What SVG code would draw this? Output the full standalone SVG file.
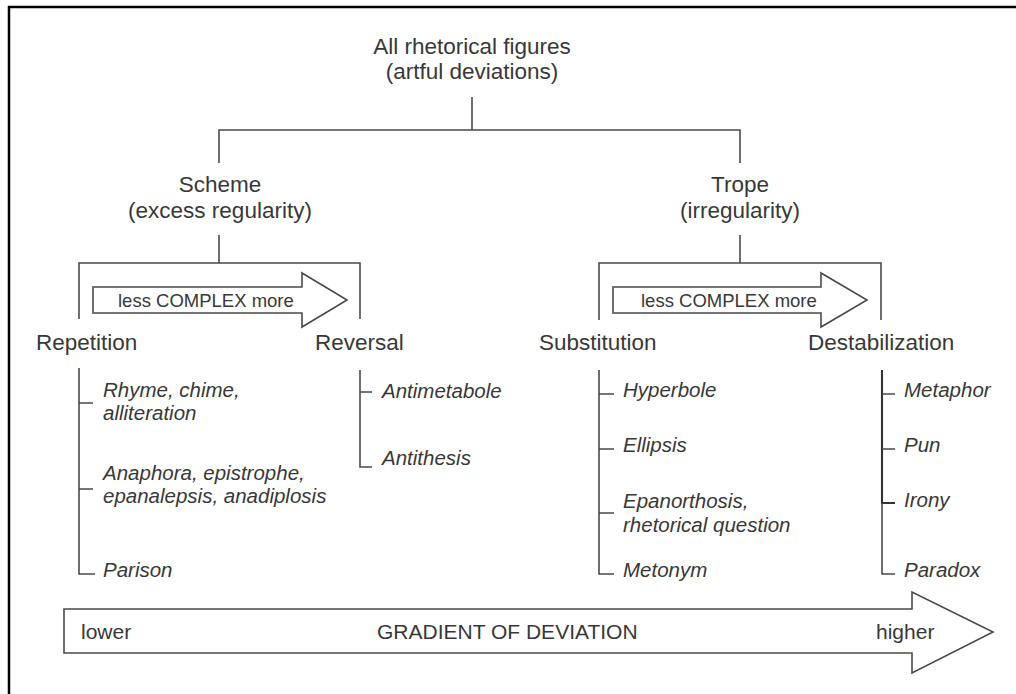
<svg xmlns="http://www.w3.org/2000/svg" width="1016" height="694" viewBox="0 0 1016 694">
<style>
text{font-family:"Liberation Sans",Arial,Helvetica,sans-serif;fill:#383838}
.main{font-size:22.5px}
.it{font-size:20.5px;font-style:italic}
.arr{font-size:18.5px}
.bot{font-size:21px}
.c{text-anchor:middle}
.ln{stroke:#4a4a4a;stroke-width:1.6;fill:none}
.thick{stroke:#333;stroke-width:2.1;fill:none}
.shape{stroke:#4a4a4a;stroke-width:1.6;fill:#fff}
.frame{stroke:#000;stroke-width:2.5;fill:none}
</style>
<rect width="1016" height="694" fill="#fff"/>
<path class="frame" d="M9,694 V7 H1016"/>

<g id="connectors">
  <path class="ln" d="M472,97 V130 M219,163 V130 H740 V163"/>
  <path class="ln" d="M219,235 V263 M79,319 V263 H360 V319"/>
  <path class="ln" d="M740,235 V263 M599,320 V263 H881 V320"/>
  <path class="ln" d="M79,368 V574 H95 M79,403 H93 M79,489 H93"/>
  <path class="ln" d="M360,370 V467 H372 M360,392 H372"/>
  <path class="ln" d="M599,370 V574 H614 M599,394 H614 M599,449 H614 M599,513 H614"/>
  <path class="thick" d="M882,370 V503 H895"/>
  <path class="ln" d="M882,394 H895 M882,449 H895 M882,503 V574 H895"/>
</g>

<g id="root">
  <text class="main c" x="472" y="54">All rhetorical figures</text>
  <text class="main c" x="472" y="79">(artful deviations)</text>
</g>

<g id="scheme">
  <text class="main c" x="220" y="192">Scheme</text>
  <text class="main c" x="220" y="218">(excess regularity)</text>
</g>

<g id="trope">
  <text class="main c" x="740" y="192">Trope</text>
  <text class="main c" x="740" y="218">(irregularity)</text>
</g>

<g id="scheme-arrow">
  <polygon class="shape" points="93,287 302,287 302,273 347,300 302,327 302,313 93,313"/>
  <text class="arr" x="118" y="307">less COMPLEX more</text>
</g>

<g id="trope-arrow">
  <polygon class="shape" points="613,287 821,287 821,273 867,300 821,327 821,313 613,313"/>
  <text class="arr" x="641" y="307">less COMPLEX more</text>
</g>

<g id="repetition">
  <text class="main" x="36" y="350">Repetition</text>
</g>
<g id="reversal">
  <text class="main" x="315" y="350">Reversal</text>
</g>
<g id="substitution">
  <text class="main" x="539" y="350">Substitution</text>
</g>
<g id="destabilization">
  <text class="main" x="808" y="350">Destabilization</text>
</g>

<g id="rhyme">
  <text class="it" x="103" y="397">Rhyme, chime,</text>
  <text class="it" x="103" y="420">alliteration</text>
</g>
<g id="anaphora">
  <text class="it" x="103" y="480">Anaphora, epistrophe,</text>
  <text class="it" x="103" y="503">epanalepsis, anadiplosis</text>
</g>
<g id="parison">
  <text class="it" x="103" y="577">Parison</text>
</g>

<g id="antimetabole">
  <text class="it" x="382" y="398">Antimetabole</text>
</g>
<g id="antithesis">
  <text class="it" x="382" y="465">Antithesis</text>
</g>

<g id="hyperbole">
  <text class="it" x="623" y="397">Hyperbole</text>
</g>
<g id="ellipsis">
  <text class="it" x="623" y="452">Ellipsis</text>
</g>
<g id="epanorthosis">
  <text class="it" x="623" y="508">Epanorthosis,</text>
  <text class="it" x="623" y="532">rhetorical question</text>
</g>
<g id="metonym">
  <text class="it" x="623" y="577">Metonym</text>
</g>

<g id="metaphor">
  <text class="it" x="904" y="397">Metaphor</text>
</g>
<g id="pun">
  <text class="it" x="904" y="452">Pun</text>
</g>
<g id="irony">
  <text class="it" x="904" y="507">Irony</text>
</g>
<g id="paradox">
  <text class="it" x="904" y="577">Paradox</text>
</g>

<g id="gradient">
  <polygon class="shape" points="64,609 912,609 912,592 993,632 912,673 912,653 64,653"/>
  <text class="bot" x="81" y="639">lower</text>
  <text class="bot" x="377" y="639">GRADIENT OF DEVIATION</text>
  <text class="bot" x="876" y="639">higher</text>
</g>
</svg>
